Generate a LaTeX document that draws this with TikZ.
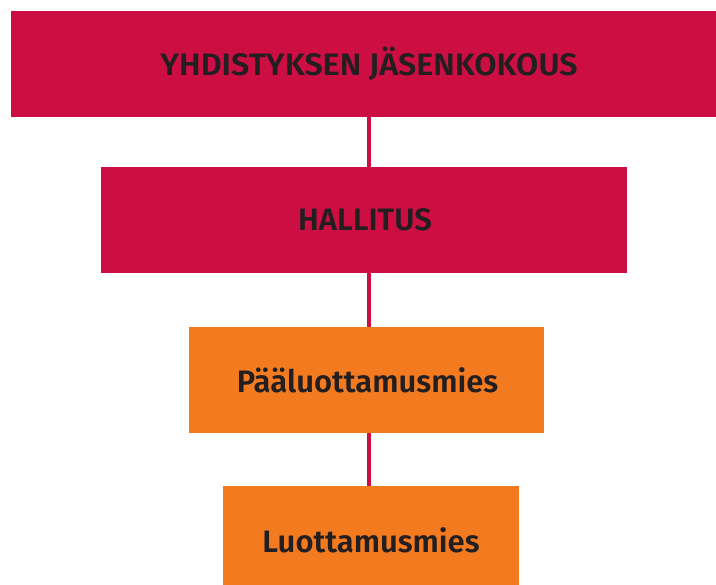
\documentclass[tikz,border=0pt]{standalone}
\usepackage{fontspec}
\setmainfont{Fira Sans}[UprightFont=* SemiBold]
\definecolor{crimson}{HTML}{CC0E43}
\definecolor{tangerine}{HTML}{F47A20}
\definecolor{ink}{HTML}{231F20}
\begin{document}
\begin{tikzpicture}[x=1pt,y=-1pt,
  orgbox/.style={inner sep=0pt,outer sep=0pt,text=ink,font=\fontsize{31}{33}\selectfont},
  link/.style={draw=crimson,line width=4pt}]
\useasboundingbox (0,0) rectangle (716,585);
% boxes
\fill[crimson] (11,11) rectangle (727,117);
\fill[crimson] (101,167) rectangle (627,273);
\fill[tangerine] (189,327) rectangle (544,433);
\fill[tangerine] (223,486) rectangle (519,590);
% connectors
\coordinate (b1) at (369,117);
\coordinate (t2) at (369,167);
\coordinate (b2) at (369,273);
\coordinate (t3) at (369,327);
\coordinate (b3) at (369,433);
\coordinate (t4) at (369,486);
\draw[link] (b1) -- (t2);
\draw[link] (b2) -- (t3);
\draw[link] (b3) -- (t4);
% labels
\node[orgbox,xscale=1.04,transform shape] (n1) at (369,64) {YHDISTYKSEN JÄSENKOKOUS};
\node[orgbox] (n2) at (365,220) {HALLITUS};
\node[orgbox] (n3) at (367.5,380) {Pääluottamusmies};
\node[orgbox] (n4) at (371,540) {Luottamusmies};
\end{tikzpicture}
\end{document}
